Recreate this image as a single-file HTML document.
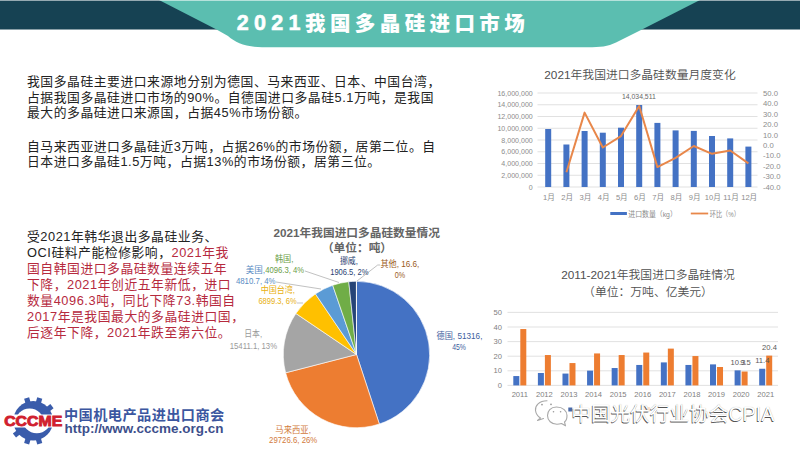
<!DOCTYPE html>
<html><head><meta charset="utf-8"><style>
html,body{margin:0;padding:0;background:#fff;}
body{width:800px;height:449px;position:relative;overflow:hidden;}
</style></head><body>

<svg width="800" height="60" style="position:absolute;left:0;top:0">
  <rect x="0" y="0" width="800" height="29.5" fill="#164253"/>
  <path d="M159,0 L700,0 L642,29.5 L616,42.5 C608,46.5 600,47.3 588,47.3 L262,47.3 C244,46.5 236,43 228,36 L216.5,29.5 Z" fill="#5bbeb0"/>
  <rect x="0" y="0" width="800" height="1" fill="#fff" fill-opacity="0.55"/>
</svg>
<div style="position:absolute;left:236px;top:6.5px;font:900 20.5px 'Liberation Sans', 'Noto Sans CJK SC', sans-serif;color:#fff;letter-spacing:4.4px;white-space:nowrap"><span style="letter-spacing:5.3px;font-size:21.5px;position:relative;top:-0.8px;left:0.8px;-webkit-text-stroke:0.6px #fff">2021</span>我国多晶硅进口市场</div>


<div style="position:absolute;left:27px;top:74px;line-height:15.7px;font-size:12.8px;letter-spacing:0.55px;color:#222;font-family:'Liberation Sans', 'Noto Sans CJK SC', sans-serif;white-space:nowrap">我国多晶硅主要进口来源地分别为德国、马来西亚、日本、中国台湾，<br>占据我国多晶硅进口市场的90%。自德国进口多晶硅5.1万吨，是我国<br>最大的多晶硅进口来源国，占据45%市场份额。</div>
<div style="position:absolute;left:27px;top:138.5px;line-height:15.6px;font-size:12.8px;letter-spacing:0.55px;color:#222;font-family:'Liberation Sans', 'Noto Sans CJK SC', sans-serif;white-space:nowrap">自马来西亚进口多晶硅近3万吨，占据26%的市场份额，居第二位。自<br>日本进口多晶硅1.5万吨，占据13%的市场份额，居第三位。</div>
<div style="position:absolute;left:27px;top:229.3px;line-height:15.9px;font-size:12.8px;letter-spacing:0.55px;color:#222;font-family:'Liberation Sans', 'Noto Sans CJK SC', sans-serif;white-space:nowrap">受2021年韩华退出多晶硅业务、<br>OCI硅料产能检修影响，<span style="color:#b62a3e">2021年我<br>国自韩国进口多晶硅数量连续五年<br>下降，2021年创近五年新低，进口<br>数量4096.3吨，同比下降73.韩国自<br>2017年是我国最大的多晶硅进口国，<br>后逐年下降，2021年跌至第六位。</span></div>

<svg width="800" height="449" style="position:absolute;left:0;top:0"><text x="356.7" y="236.5" font-family="Liberation Sans, Noto Sans CJK SC, sans-serif" font-size="11.7" font-weight="bold" fill="#646464" text-anchor="middle">2021年我国进口多晶硅数量情况</text><text x="357" y="251.5" font-family="Liberation Sans, Noto Sans CJK SC, sans-serif" font-size="11.7" font-weight="bold" fill="#646464" text-anchor="middle">（单位：吨）</text><path d="M356.5,354.5 L356.50,281.30 A73.2,73.2 0 0 1 379.37,424.03 Z" fill="#4472c4" stroke="#fff" stroke-width="0.6"/><path d="M356.5,354.5 L379.37,424.03 A73.2,73.2 0 0 1 285.63,372.81 Z" fill="#ed7d31" stroke="#fff" stroke-width="0.6"/><path d="M356.5,354.5 L285.63,372.81 A73.2,73.2 0 0 1 295.89,313.46 Z" fill="#a5a5a5" stroke="#fff" stroke-width="0.6"/><path d="M356.5,354.5 L295.89,313.46 A73.2,73.2 0 0 1 315.41,293.92 Z" fill="#ffc000" stroke="#fff" stroke-width="0.6"/><path d="M356.5,354.5 L315.41,293.92 A73.2,73.2 0 0 1 332.69,285.28 Z" fill="#5b9bd5" stroke="#fff" stroke-width="0.6"/><path d="M356.5,354.5 L332.69,285.28 A73.2,73.2 0 0 1 348.77,281.71 Z" fill="#70ad47" stroke="#fff" stroke-width="0.6"/><path d="M356.5,354.5 L348.77,281.71 A73.2,73.2 0 0 1 356.43,281.30 Z" fill="#264478" stroke="#fff" stroke-width="0.6"/><path d="M356.5,354.5 L356.43,281.30 A73.2,73.2 0 0 1 356.50,281.30 Z" fill="#9e480e" stroke="#fff" stroke-width="0.6"/><g stroke="#a6a6a6" stroke-width="0.7" fill="none"><polyline points="305,271 339,282.5"/><polyline points="276,282 321,289"/><polyline points="297,303 303,303"/><polyline points="380,265 377.7,265 357,281"/></g><text x="274.9" y="262.1" font-family="Liberation Sans, Noto Sans CJK SC, sans-serif" font-size="8.6" fill="#6a9e48" textLength="18.5" lengthAdjust="spacingAndGlyphs">韩国,</text><text x="245.7" y="272.6" font-family="Liberation Sans, Noto Sans CJK SC, sans-serif" font-size="8.6" fill="#5a8cc4" textLength="19.4" lengthAdjust="spacingAndGlyphs">美国,</text><text x="265.2" y="272.6" font-family="Liberation Sans, Noto Sans CJK SC, sans-serif" font-size="8.6" fill="#6a9e48" textLength="38.9" lengthAdjust="spacingAndGlyphs">4096.3, 4%</text><text x="235.9" y="283.8" font-family="Liberation Sans, Noto Sans CJK SC, sans-serif" font-size="8.6" fill="#5a8cc4" textLength="39.7" lengthAdjust="spacingAndGlyphs">4810.7, 4%</text><text x="260.7" y="292.8" font-family="Liberation Sans, Noto Sans CJK SC, sans-serif" font-size="8.6" fill="#e8b010" textLength="34.4" lengthAdjust="spacingAndGlyphs">中国台湾,</text><text x="258.4" y="304.1" font-family="Liberation Sans, Noto Sans CJK SC, sans-serif" font-size="8.6" fill="#e8b010" textLength="38.2" lengthAdjust="spacingAndGlyphs">6899.3, 6%</text><text x="339.9" y="263.9" font-family="Liberation Sans, Noto Sans CJK SC, sans-serif" font-size="8.6" fill="#2a4272" textLength="18.0" lengthAdjust="spacingAndGlyphs">挪威,</text><text x="330.2" y="275.3" font-family="Liberation Sans, Noto Sans CJK SC, sans-serif" font-size="8.6" fill="#2a4272" textLength="38.2" lengthAdjust="spacingAndGlyphs">1906.5, 2%</text><text x="380.4" y="267.4" font-family="Liberation Sans, Noto Sans CJK SC, sans-serif" font-size="8.6" fill="#9a5a22" textLength="39.0" lengthAdjust="spacingAndGlyphs">其他, 16.6,</text><text x="394.7" y="277.8" font-family="Liberation Sans, Noto Sans CJK SC, sans-serif" font-size="8.6" fill="#9a5a22" textLength="10.4" lengthAdjust="spacingAndGlyphs">0%</text><text x="244.2" y="337.1" font-family="Liberation Sans, Noto Sans CJK SC, sans-serif" font-size="8.6" fill="#9a9a9a" textLength="17.9" lengthAdjust="spacingAndGlyphs">日本,</text><text x="229.7" y="349.1" font-family="Liberation Sans, Noto Sans CJK SC, sans-serif" font-size="8.6" fill="#9a9a9a" textLength="47.4" lengthAdjust="spacingAndGlyphs">15411.1, 13%</text><text x="436.5" y="338.6" font-family="Liberation Sans, Noto Sans CJK SC, sans-serif" font-size="8.6" fill="#40609e" textLength="45.9" lengthAdjust="spacingAndGlyphs">德国, 51316,</text><text x="452.2" y="349.6" font-family="Liberation Sans, Noto Sans CJK SC, sans-serif" font-size="8.6" fill="#40609e" textLength="13.7" lengthAdjust="spacingAndGlyphs">45%</text><text x="275.3" y="432.5" font-family="Liberation Sans, Noto Sans CJK SC, sans-serif" font-size="8.6" fill="#d27a3c" textLength="35.7" lengthAdjust="spacingAndGlyphs">马来西亚,</text><text x="269.1" y="443.4" font-family="Liberation Sans, Noto Sans CJK SC, sans-serif" font-size="8.6" fill="#d27a3c" textLength="48.2" lengthAdjust="spacingAndGlyphs">29726.6, 26%</text></svg>
<svg width="800" height="449" style="position:absolute;left:0;top:0"><text x="640" y="78.8" font-family="Liberation Sans, Noto Sans CJK SC, sans-serif" font-size="11.8" font-weight="350" fill="#505050" text-anchor="middle">2021年我国进口多晶硅数量月度变化</text><line x1="537.5" y1="187.00" x2="757.5" y2="187.00" stroke="#d9d9d9" stroke-width="0.8"/><line x1="537.5" y1="175.25" x2="757.5" y2="175.25" stroke="#d9d9d9" stroke-width="0.8"/><line x1="537.5" y1="163.50" x2="757.5" y2="163.50" stroke="#d9d9d9" stroke-width="0.8"/><line x1="537.5" y1="151.75" x2="757.5" y2="151.75" stroke="#d9d9d9" stroke-width="0.8"/><line x1="537.5" y1="140.00" x2="757.5" y2="140.00" stroke="#d9d9d9" stroke-width="0.8"/><line x1="537.5" y1="128.25" x2="757.5" y2="128.25" stroke="#d9d9d9" stroke-width="0.8"/><line x1="537.5" y1="116.50" x2="757.5" y2="116.50" stroke="#d9d9d9" stroke-width="0.8"/><line x1="537.5" y1="104.75" x2="757.5" y2="104.75" stroke="#d9d9d9" stroke-width="0.8"/><line x1="537.5" y1="93.00" x2="757.5" y2="93.00" stroke="#d9d9d9" stroke-width="0.8"/><g transform="translate(532.8,0) scale(0.92,1) translate(-532.8,0)"><text x="532.8" y="189.70" font-family="Liberation Sans, Noto Sans CJK SC, sans-serif" font-size="7.7" fill="#8c8c8c" text-anchor="end">0</text><text x="532.8" y="177.95" font-family="Liberation Sans, Noto Sans CJK SC, sans-serif" font-size="7.7" fill="#8c8c8c" text-anchor="end">2,000,000</text><text x="532.8" y="166.20" font-family="Liberation Sans, Noto Sans CJK SC, sans-serif" font-size="7.7" fill="#8c8c8c" text-anchor="end">4,000,000</text><text x="532.8" y="154.45" font-family="Liberation Sans, Noto Sans CJK SC, sans-serif" font-size="7.7" fill="#8c8c8c" text-anchor="end">6,000,000</text><text x="532.8" y="142.70" font-family="Liberation Sans, Noto Sans CJK SC, sans-serif" font-size="7.7" fill="#8c8c8c" text-anchor="end">8,000,000</text><text x="532.8" y="130.95" font-family="Liberation Sans, Noto Sans CJK SC, sans-serif" font-size="7.7" fill="#8c8c8c" text-anchor="end">10,000,000</text><text x="532.8" y="119.20" font-family="Liberation Sans, Noto Sans CJK SC, sans-serif" font-size="7.7" fill="#8c8c8c" text-anchor="end">12,000,000</text><text x="532.8" y="107.45" font-family="Liberation Sans, Noto Sans CJK SC, sans-serif" font-size="7.7" fill="#8c8c8c" text-anchor="end">14,000,000</text><text x="532.8" y="95.70" font-family="Liberation Sans, Noto Sans CJK SC, sans-serif" font-size="7.7" fill="#8c8c8c" text-anchor="end">16,000,000</text></g><text x="763" y="95.95" font-family="Liberation Sans, Noto Sans CJK SC, sans-serif" font-size="7.7" fill="#8c8c8c">50.0</text><text x="763" y="106.37" font-family="Liberation Sans, Noto Sans CJK SC, sans-serif" font-size="7.7" fill="#8c8c8c">40.0</text><text x="763" y="116.78" font-family="Liberation Sans, Noto Sans CJK SC, sans-serif" font-size="7.7" fill="#8c8c8c">30.0</text><text x="763" y="127.20" font-family="Liberation Sans, Noto Sans CJK SC, sans-serif" font-size="7.7" fill="#8c8c8c">20.0</text><text x="763" y="137.62" font-family="Liberation Sans, Noto Sans CJK SC, sans-serif" font-size="7.7" fill="#8c8c8c">10.0</text><text x="763" y="148.03" font-family="Liberation Sans, Noto Sans CJK SC, sans-serif" font-size="7.7" fill="#8c8c8c">0.0</text><text x="763" y="158.45" font-family="Liberation Sans, Noto Sans CJK SC, sans-serif" font-size="7.7" fill="#8c8c8c">-10.0</text><text x="763" y="168.87" font-family="Liberation Sans, Noto Sans CJK SC, sans-serif" font-size="7.7" fill="#8c8c8c">-20.0</text><text x="763" y="179.28" font-family="Liberation Sans, Noto Sans CJK SC, sans-serif" font-size="7.7" fill="#8c8c8c">-30.0</text><text x="763" y="189.70" font-family="Liberation Sans, Noto Sans CJK SC, sans-serif" font-size="7.7" fill="#8c8c8c">-40.0</text><text x="549.00" y="199.8" font-family="Liberation Sans, Noto Sans CJK SC, sans-serif" font-size="7.6" fill="#8c8c8c" text-anchor="middle">1月</text><text x="567.20" y="199.8" font-family="Liberation Sans, Noto Sans CJK SC, sans-serif" font-size="7.6" fill="#8c8c8c" text-anchor="middle">2月</text><text x="585.40" y="199.8" font-family="Liberation Sans, Noto Sans CJK SC, sans-serif" font-size="7.6" fill="#8c8c8c" text-anchor="middle">3月</text><text x="603.60" y="199.8" font-family="Liberation Sans, Noto Sans CJK SC, sans-serif" font-size="7.6" fill="#8c8c8c" text-anchor="middle">4月</text><text x="621.80" y="199.8" font-family="Liberation Sans, Noto Sans CJK SC, sans-serif" font-size="7.6" fill="#8c8c8c" text-anchor="middle">5月</text><text x="640.00" y="199.8" font-family="Liberation Sans, Noto Sans CJK SC, sans-serif" font-size="7.6" fill="#8c8c8c" text-anchor="middle">6月</text><text x="658.20" y="199.8" font-family="Liberation Sans, Noto Sans CJK SC, sans-serif" font-size="7.6" fill="#8c8c8c" text-anchor="middle">7月</text><text x="676.40" y="199.8" font-family="Liberation Sans, Noto Sans CJK SC, sans-serif" font-size="7.6" fill="#8c8c8c" text-anchor="middle">8月</text><text x="694.60" y="199.8" font-family="Liberation Sans, Noto Sans CJK SC, sans-serif" font-size="7.6" fill="#8c8c8c" text-anchor="middle">9月</text><text x="712.80" y="199.8" font-family="Liberation Sans, Noto Sans CJK SC, sans-serif" font-size="7.6" fill="#8c8c8c" text-anchor="middle">10月</text><text x="731.00" y="199.8" font-family="Liberation Sans, Noto Sans CJK SC, sans-serif" font-size="7.6" fill="#8c8c8c" text-anchor="middle">11月</text><text x="749.20" y="199.8" font-family="Liberation Sans, Noto Sans CJK SC, sans-serif" font-size="7.6" fill="#8c8c8c" text-anchor="middle">12月</text><rect x="545.20" y="129.00" width="6" height="58.00" fill="#4472c4"/><rect x="563.40" y="144.50" width="6" height="42.50" fill="#4472c4"/><rect x="581.60" y="131.00" width="6" height="56.00" fill="#4472c4"/><rect x="599.80" y="132.70" width="6" height="54.30" fill="#4472c4"/><rect x="618.00" y="127.70" width="6" height="59.30" fill="#4472c4"/><rect x="636.20" y="105.00" width="6" height="82.00" fill="#4472c4"/><rect x="654.40" y="122.90" width="6" height="64.10" fill="#4472c4"/><rect x="672.60" y="130.40" width="6" height="56.60" fill="#4472c4"/><rect x="690.80" y="130.90" width="6" height="56.10" fill="#4472c4"/><rect x="709.00" y="136.00" width="6" height="51.00" fill="#4472c4"/><rect x="727.20" y="138.40" width="6" height="48.60" fill="#4472c4"/><rect x="745.40" y="146.60" width="6" height="40.40" fill="#4472c4"/><polyline points="566.40,172.20 584.60,112.60 602.80,147.50 621.00,136.10 639.20,106.00 657.40,167.10 675.60,157.90 693.80,146.00 712.00,153.80 730.20,150.50 748.40,163.40" fill="none" stroke="#e8874a" stroke-width="2" stroke-linejoin="round"/><text x="622" y="99" font-family="Liberation Sans, Noto Sans CJK SC, sans-serif" font-size="7.7" fill="#666" textLength="33.8" lengthAdjust="spacingAndGlyphs">14,034,511</text><rect x="610.3" y="212" width="16.6" height="3" fill="#4472c4"/><text x="628.3" y="216.8" font-family="Liberation Sans, Noto Sans CJK SC, sans-serif" font-size="7.6" fill="#8c8c8c" textLength="48.5" lengthAdjust="spacingAndGlyphs">进口数量（kg）</text><rect x="690.8" y="212.6" width="17.4" height="1.8" fill="#e8874a"/><text x="709.8" y="216.8" font-family="Liberation Sans, Noto Sans CJK SC, sans-serif" font-size="7.6" fill="#8c8c8c" textLength="30" lengthAdjust="spacingAndGlyphs">环比（%）</text></svg>
<svg width="800" height="449" style="position:absolute;left:0;top:0"><text x="648" y="278.8" font-family="Liberation Sans, Noto Sans CJK SC, sans-serif" font-size="11.8" font-weight="350" fill="#505050" text-anchor="middle">2011-2021年我国进口多晶硅情况</text><text x="648" y="295.5" font-family="Liberation Sans, Noto Sans CJK SC, sans-serif" font-size="11.8" font-weight="350" fill="#505050" text-anchor="middle">（单位：万吨、亿美元）</text><line x1="507.5" y1="385.40" x2="778" y2="385.40" stroke="#d9d9d9" stroke-width="0.8"/><text x="502" y="388.00" font-family="Liberation Sans, Noto Sans CJK SC, sans-serif" font-size="7.6" fill="#808080" text-anchor="end">0</text><line x1="507.5" y1="370.80" x2="778" y2="370.80" stroke="#d9d9d9" stroke-width="0.8"/><text x="502" y="373.40" font-family="Liberation Sans, Noto Sans CJK SC, sans-serif" font-size="7.6" fill="#808080" text-anchor="end">10</text><line x1="507.5" y1="356.20" x2="778" y2="356.20" stroke="#d9d9d9" stroke-width="0.8"/><text x="502" y="358.80" font-family="Liberation Sans, Noto Sans CJK SC, sans-serif" font-size="7.6" fill="#808080" text-anchor="end">20</text><line x1="507.5" y1="341.60" x2="778" y2="341.60" stroke="#d9d9d9" stroke-width="0.8"/><text x="502" y="344.20" font-family="Liberation Sans, Noto Sans CJK SC, sans-serif" font-size="7.6" fill="#808080" text-anchor="end">30</text><line x1="507.5" y1="327.00" x2="778" y2="327.00" stroke="#d9d9d9" stroke-width="0.8"/><text x="502" y="329.60" font-family="Liberation Sans, Noto Sans CJK SC, sans-serif" font-size="7.6" fill="#808080" text-anchor="end">40</text><line x1="507.5" y1="312.40" x2="778" y2="312.40" stroke="#d9d9d9" stroke-width="0.8"/><text x="502" y="315.00" font-family="Liberation Sans, Noto Sans CJK SC, sans-serif" font-size="7.6" fill="#808080" text-anchor="end">50</text><text x="519.80" y="396.8" font-family="Liberation Sans, Noto Sans CJK SC, sans-serif" font-size="7.6" fill="#808080" text-anchor="middle">2011</text><text x="544.39" y="396.8" font-family="Liberation Sans, Noto Sans CJK SC, sans-serif" font-size="7.6" fill="#808080" text-anchor="middle">2012</text><text x="568.98" y="396.8" font-family="Liberation Sans, Noto Sans CJK SC, sans-serif" font-size="7.6" fill="#808080" text-anchor="middle">2013</text><text x="593.57" y="396.8" font-family="Liberation Sans, Noto Sans CJK SC, sans-serif" font-size="7.6" fill="#808080" text-anchor="middle">2014</text><text x="618.16" y="396.8" font-family="Liberation Sans, Noto Sans CJK SC, sans-serif" font-size="7.6" fill="#808080" text-anchor="middle">2015</text><text x="642.75" y="396.8" font-family="Liberation Sans, Noto Sans CJK SC, sans-serif" font-size="7.6" fill="#808080" text-anchor="middle">2016</text><text x="667.34" y="396.8" font-family="Liberation Sans, Noto Sans CJK SC, sans-serif" font-size="7.6" fill="#808080" text-anchor="middle">2017</text><text x="691.93" y="396.8" font-family="Liberation Sans, Noto Sans CJK SC, sans-serif" font-size="7.6" fill="#808080" text-anchor="middle">2018</text><text x="716.52" y="396.8" font-family="Liberation Sans, Noto Sans CJK SC, sans-serif" font-size="7.6" fill="#808080" text-anchor="middle">2019</text><text x="741.11" y="396.8" font-family="Liberation Sans, Noto Sans CJK SC, sans-serif" font-size="7.6" fill="#808080" text-anchor="middle">2020</text><text x="765.70" y="396.8" font-family="Liberation Sans, Noto Sans CJK SC, sans-serif" font-size="7.6" fill="#808080" text-anchor="middle">2021</text><rect x="513.30" y="376.06" width="6" height="9.34" fill="#4472c4"/><rect x="520.30" y="329.04" width="6" height="56.36" fill="#ed7d31"/><rect x="537.89" y="372.99" width="6" height="12.41" fill="#4472c4"/><rect x="544.89" y="355.03" width="6" height="30.37" fill="#ed7d31"/><rect x="562.48" y="373.57" width="6" height="11.83" fill="#4472c4"/><rect x="569.48" y="363.06" width="6" height="22.34" fill="#ed7d31"/><rect x="587.07" y="370.65" width="6" height="14.75" fill="#4472c4"/><rect x="594.07" y="353.43" width="6" height="31.97" fill="#ed7d31"/><rect x="611.66" y="368.03" width="6" height="17.37" fill="#4472c4"/><rect x="618.66" y="355.03" width="6" height="30.37" fill="#ed7d31"/><rect x="636.25" y="364.96" width="6" height="20.44" fill="#4472c4"/><rect x="643.25" y="352.55" width="6" height="32.85" fill="#ed7d31"/><rect x="660.84" y="362.40" width="6" height="22.99" fill="#4472c4"/><rect x="667.84" y="348.61" width="6" height="36.79" fill="#ed7d31"/><rect x="685.43" y="364.96" width="6" height="20.44" fill="#4472c4"/><rect x="692.43" y="356.05" width="6" height="29.35" fill="#ed7d31"/><rect x="710.02" y="364.38" width="6" height="21.02" fill="#4472c4"/><rect x="717.02" y="367.00" width="6" height="18.40" fill="#ed7d31"/><rect x="734.61" y="370.36" width="6" height="15.04" fill="#4472c4"/><rect x="741.61" y="371.53" width="6" height="13.87" fill="#ed7d31"/><rect x="759.20" y="368.76" width="6" height="16.64" fill="#4472c4"/><rect x="766.20" y="355.62" width="6" height="29.78" fill="#ed7d31"/><text x="738" y="365" font-family="Liberation Sans, Noto Sans CJK SC, sans-serif" font-size="7.6" fill="#595959" text-anchor="middle">10.3</text><text x="745.5" y="365" font-family="Liberation Sans, Noto Sans CJK SC, sans-serif" font-size="7.6" fill="#595959" text-anchor="middle">9.5</text><text x="762.3" y="362.6" font-family="Liberation Sans, Noto Sans CJK SC, sans-serif" font-size="7.6" fill="#595959" text-anchor="middle">11.4</text><text x="769.5" y="350" font-family="Liberation Sans, Noto Sans CJK SC, sans-serif" font-size="7.6" fill="#595959" text-anchor="middle">20.4</text><rect x="568.3" y="407.5" width="4" height="4" fill="#4a6aa8"/><rect x="644.5" y="407" width="5.5" height="4.5" fill="#ed7d31" fill-opacity="0.22"/></svg>

<svg width="800" height="449" style="position:absolute;left:0;top:0">
  <defs><clipPath id="gc"><rect x="0" y="380" width="80" height="69"/></clipPath></defs>
  <clipPath id="gup"><rect x="0" y="380" width="80" height="40.80000000000001"/></clipPath>
  <clipPath id="gdn"><rect x="0" y="420.8" width="80" height="40"/></clipPath>
  <g clip-path="url(#gup)">
  <rect x="30.6" y="397.0" width="5.2" height="6" fill="#3a5cab" transform="rotate(-16.0 33.2 420.8)"/><rect x="30.6" y="397.0" width="5.2" height="6" fill="#3a5cab" transform="rotate(16.0 33.2 420.8)"/><rect x="30.6" y="397.0" width="5.2" height="6" fill="#3a5cab" transform="rotate(52.0 33.2 420.8)"/><rect x="30.6" y="397.0" width="5.2" height="6" fill="#3a5cab" transform="rotate(164.0 33.2 420.8)"/><rect x="30.6" y="397.0" width="5.2" height="6" fill="#3a5cab" transform="rotate(196.0 33.2 420.8)"/><rect x="30.6" y="397.0" width="5.2" height="6" fill="#3a5cab" transform="rotate(232.0 33.2 420.8)"/>
  <circle cx="33.2" cy="420.8" r="19.8" fill="#3a5cab"/>
  <circle cx="29.6" cy="423.0" r="14.6" fill="#fff"/>
  </g>
  <g clip-path="url(#gdn)">
  <rect x="30.6" y="397.0" width="5.2" height="6" fill="#3a5cab" transform="rotate(-16.0 33.2 420.8)"/><rect x="30.6" y="397.0" width="5.2" height="6" fill="#3a5cab" transform="rotate(16.0 33.2 420.8)"/><rect x="30.6" y="397.0" width="5.2" height="6" fill="#3a5cab" transform="rotate(52.0 33.2 420.8)"/><rect x="30.6" y="397.0" width="5.2" height="6" fill="#3a5cab" transform="rotate(164.0 33.2 420.8)"/><rect x="30.6" y="397.0" width="5.2" height="6" fill="#3a5cab" transform="rotate(196.0 33.2 420.8)"/><rect x="30.6" y="397.0" width="5.2" height="6" fill="#3a5cab" transform="rotate(232.0 33.2 420.8)"/>
  <circle cx="33.2" cy="420.8" r="19.8" fill="#3a5cab"/>
  <circle cx="36.800000000000004" cy="418.6" r="14.6" fill="#fff"/>
  </g>
  <rect x="3" y="414.5" width="62" height="13" fill="#fff"/>
  <text x="4.2" y="426.4" font-family="Liberation Sans, sans-serif" font-weight="bold" font-size="14.6" fill="#d0202e" stroke="#d0202e" stroke-width="0.9" textLength="58" lengthAdjust="spacingAndGlyphs">CCCME</text>
</svg>
<div style="position:absolute;left:64px;top:404px;font:bold 14.2px 'Liberation Sans', 'Noto Sans CJK SC', sans-serif;color:#3b56a0;white-space:nowrap;letter-spacing:0.42px">中国机电产品进出口商会</div>
<div style="position:absolute;left:64.5px;top:421px;font:bold 13.48px 'Liberation Sans', 'Noto Sans CJK SC', sans-serif;color:#3d4f8c;white-space:nowrap">http://www.cccme.org.cn</div>


<svg width="800" height="449" style="position:absolute;left:0;top:0">
  <g fill="none" stroke="#a8a8a8" stroke-width="1.1" stroke-linecap="round" stroke-linejoin="round">
    <path d="M547,400.8 C539,400.8 535,406 535.5,410.5 C536,414 538,416.5 540.5,418 L537.5,420.5 L543.5,418.6"/>
    <path d="M556.5,407 C550.5,407 547.5,411 547.5,415.5 C547.5,420.5 551.5,424.3 557,424.3 C558.5,424.3 560,424 561.5,423.5 L565.5,425.8 L564.5,422 C566.5,420.5 567,418 567,415.5 C567,411 563,407 556.5,407 Z" fill="#fff"/>
  </g>
  <g fill="#9a9a9a">
    <circle cx="542" cy="404.6" r="0.9"/><circle cx="551" cy="404.3" r="0.9"/>
    <circle cx="553.5" cy="411.8" r="0.8"/><circle cx="560.6" cy="411.8" r="0.8"/>
  </g>
</svg>
<div style="position:absolute;left:571.3px;top:397.6px;font:19.65px 'Liberation Sans', 'Noto Sans CJK SC', sans-serif;color:#fff;white-space:nowrap;text-shadow:-0.6px 0.6px 0.5px #555, 0 0 0.8px #aaa">中国光伏行业协会CPIA</div>

</body></html>
